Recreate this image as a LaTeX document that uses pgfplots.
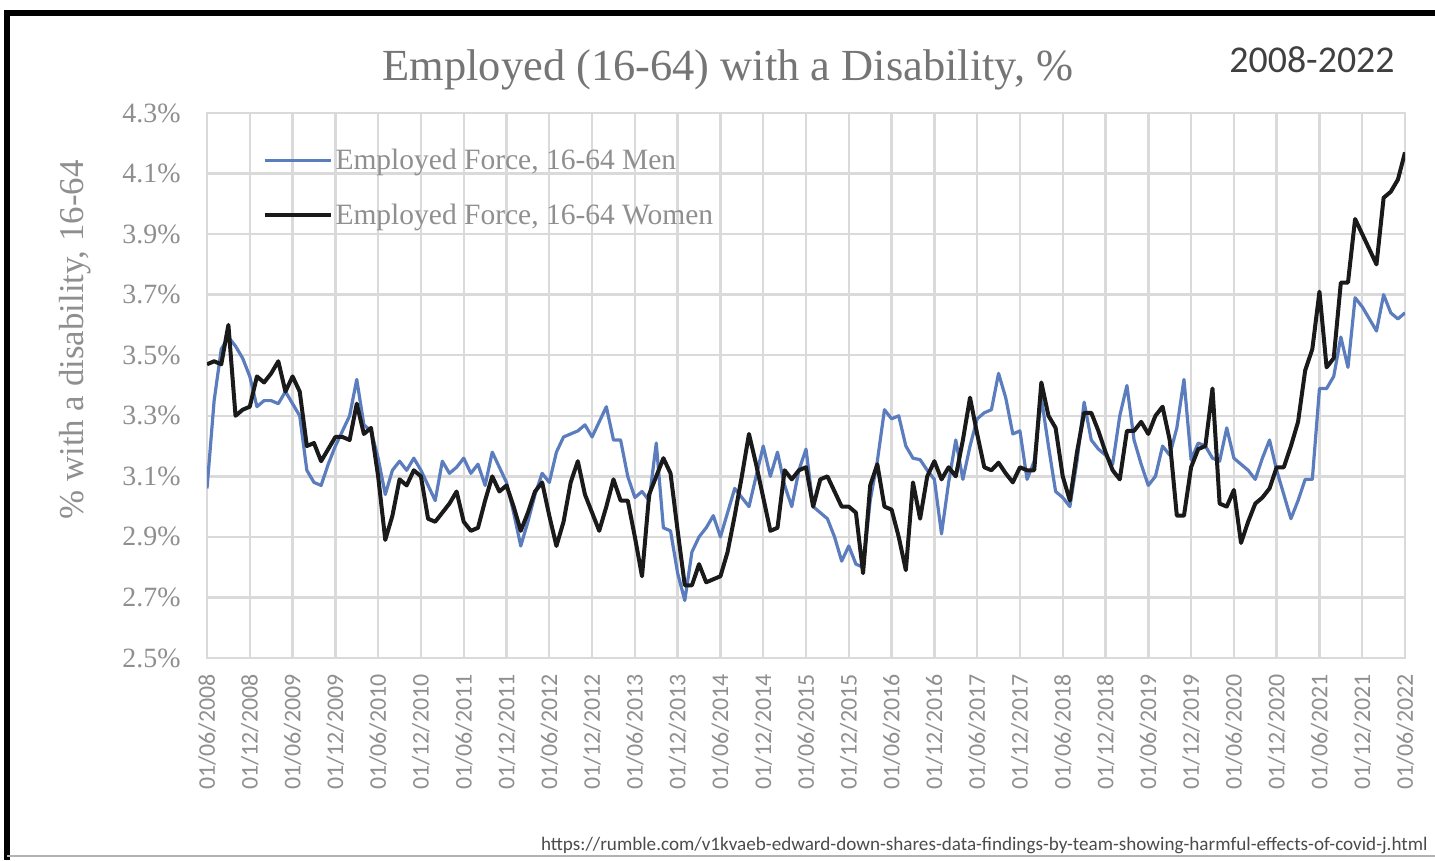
\documentclass[border=0pt]{standalone}
\usepackage{pgfplots}
\pgfplotsset{compat=1.18}
\usepackage{pgfplotstable}
\usepackage{fontspec}
\setmainfont{Liberation Serif}
\newfontfamily\calfont{Carlito}
\definecolor{gridc}{HTML}{DADADA}
\definecolor{tickc}{HTML}{8F8F8F}
\definecolor{titlec}{HTML}{757575}
\definecolor{menc}{HTML}{5B7DBE}
\definecolor{womenc}{HTML}{1A1A1A}

\pgfplotstableread{
m men women
0 3.06 3.47
1 3.35 3.48
2 3.52 3.47
3 3.56 3.60
4 3.53 3.30
5 3.49 3.32
6 3.43 3.33
7 3.33 3.43
8 3.35 3.41
9 3.35 3.44
10 3.34 3.48
11 3.38 3.38
12 3.34 3.43
13 3.30 3.38
14 3.12 3.20
15 3.08 3.21
16 3.07 3.15
17 3.14 3.19
18 3.20 3.23
19 3.25 3.23
20 3.30 3.22
21 3.42 3.34
22 3.27 3.24
23 3.25 3.26
24 3.16 3.10
25 3.04 2.89
26 3.12 2.97
27 3.15 3.09
28 3.12 3.07
29 3.16 3.12
30 3.12 3.10
31 3.07 2.96
32 3.02 2.95
33 3.15 2.98
34 3.11 3.01
35 3.13 3.05
36 3.16 2.95
37 3.11 2.92
38 3.14 2.93
39 3.07 3.02
40 3.18 3.10
41 3.13 3.05
42 3.08 3.07
43 2.98 3.00
44 2.87 2.92
45 2.95 2.98
46 3.04 3.05
47 3.11 3.08
48 3.08 2.97
49 3.18 2.87
50 3.23 2.95
51 3.24 3.08
52 3.25 3.15
53 3.27 3.04
54 3.23 2.98
55 3.28 2.92
56 3.33 3.00
57 3.22 3.09
58 3.22 3.02
59 3.10 3.02
60 3.03 2.90
61 3.05 2.77
62 3.02 3.04
63 3.21 3.10
64 2.93 3.16
65 2.92 3.11
66 2.78 2.92
67 2.69 2.74
68 2.85 2.74
69 2.90 2.81
70 2.93 2.75
71 2.97 2.76
72 2.90 2.77
73 2.98 2.85
74 3.06 2.97
75 3.03 3.10
76 3.00 3.24
77 3.10 3.14
78 3.20 3.03
79 3.10 2.92
80 3.18 2.93
81 3.07 3.12
82 3.00 3.09
83 3.12 3.12
84 3.19 3.13
85 3.00 3.00
86 2.98 3.09
87 2.96 3.10
88 2.90 3.05
89 2.82 3.00
90 2.87 3.00
91 2.81 2.98
92 2.80 2.78
93 3.02 3.07
94 3.15 3.14
95 3.32 3.00
96 3.29 2.99
97 3.30 2.90
98 3.20 2.79
99 3.16 3.08
100 3.155 2.96
101 3.12 3.10
102 3.09 3.15
103 2.91 3.09
104 3.08 3.13
105 3.22 3.10
106 3.09 3.22
107 3.20 3.36
108 3.29 3.24
109 3.31 3.13
110 3.32 3.12
111 3.44 3.145
112 3.36 3.11
113 3.24 3.08
114 3.25 3.13
115 3.09 3.12
116 3.15 3.12
117 3.36 3.41
118 3.20 3.30
119 3.05 3.26
120 3.03 3.10
121 3.00 3.02
122 3.15 3.18
123 3.345 3.31
124 3.22 3.31
125 3.19 3.25
126 3.17 3.18
127 3.14 3.12
128 3.30 3.09
129 3.40 3.25
130 3.22 3.25
131 3.14 3.28
132 3.07 3.24
133 3.10 3.30
134 3.20 3.33
135 3.17 3.22
136 3.26 2.97
137 3.42 2.97
138 3.155 3.13
139 3.21 3.19
140 3.20 3.20
141 3.16 3.39
142 3.15 3.01
143 3.26 3.00
144 3.16 3.055
145 3.14 2.88
146 3.12 2.95
147 3.09 3.01
148 3.16 3.03
149 3.22 3.06
150 3.12 3.13
151 3.04 3.13
152 2.96 3.20
153 3.02 3.28
154 3.09 3.45
155 3.09 3.52
156 3.39 3.71
157 3.39 3.46
158 3.43 3.49
159 3.56 3.74
160 3.46 3.74
161 3.69 3.95
162 3.66 3.90
163 3.62 3.85
164 3.58 3.80
165 3.70 4.02
166 3.64 4.04
167 3.62 4.08
168 3.64 4.17
}\datatable

\begin{document}
\begin{tikzpicture}[x=1bp,y=1bp]
\useasboundingbox (0,0) rectangle (717.5,430);
\fill[white] (0,0) rectangle (717.5,430);
% screenshot frame
\draw[black, line width=3bp] (3.5,0) -- (3.5,423.5) -- (717.5,423.5);
\draw[gray!60, line width=1bp] (3.5,2) -- (717.5,2);
\begin{axis}[
  at={(103.5bp,101bp)}, anchor=south west,
  scale only axis, width=599bp, height=272.5bp,
  xmin=0, xmax=168, ymin=2.5, ymax=4.3,
  xtick={0,6,...,168},
  xticklabels={01/06/2008,01/12/2008,01/06/2009,01/12/2009,01/06/2010,01/12/2010,01/06/2011,01/12/2011,01/06/2012,01/12/2012,01/06/2013,01/12/2013,01/06/2014,01/12/2014,01/06/2015,01/12/2015,01/06/2016,01/12/2016,01/06/2017,01/12/2017,01/06/2018,01/12/2018,01/06/2019,01/12/2019,01/06/2020,01/12/2020,01/06/2021,01/12/2021,01/06/2022},
  ytick={2.5,2.7,2.9,3.1,3.3,3.5,3.7,3.9,4.1,4.3},
  yticklabels={2.5\%,2.7\%,2.9\%,3.1\%,3.3\%,3.5\%,3.7\%,3.9\%,4.1\%,4.3\%},
  grid=major,
  major grid style={draw=gridc, line width=1.2bp},
  axis line style={draw=gridc, line width=1.2bp},
  major tick length=0pt,
  xticklabel style={rotate=90, anchor=east, inner sep=0pt, font=\calfont\fontsize{12}{12}\selectfont, text=tickc},
  xticklabel shift=8bp,
  yticklabel style={inner sep=0pt, font=\fontsize{14}{14}\selectfont, text=tickc},
  yticklabel shift=13bp,
  legend style={at={(0.046,0.94)}, anchor=north west, draw=none, fill=none,
    font=\fontsize{14.8}{14.8}\selectfont, text=tickc, row sep=12.5bp,
    inner sep=0pt, nodes={inner sep=1.5bp}},
  legend cell align=left,
  legend image code/.code={\draw[#1] (0bp,0bp) -- (33bp,0bp);},
]
\addplot[menc, line width=1.6bp, line join=round] table[x=m, y=men] {\datatable};
\addlegendentry{Employed Force, 16-64 Men}
\addplot[womenc, line width=2bp, line join=round] table[x=m, y=women] {\datatable};
\addlegendentry{Employed Force, 16-64 Women}
\end{axis}
\node[rotate=90, text=tickc, font=\fontsize{17.5}{17.5}\selectfont] at (37.5,260) {\% with a disability, 16-64};
\node[text=titlec, font=\fontsize{22.3}{22.3}\selectfont] at (364,395) {Employed (16-64) with a Disability, \%};
\node[text=black!75, font=\calfont\fontsize{19}{19}\selectfont] at (656,400) {2008-2022};
\node[anchor=east, text=black!70, font=\calfont\fontsize{9.6}{9.6}\selectfont, inner sep=0pt] at (714,7.5) {https://rumble.com/v1kvaeb-edward-down-shares-data-findings-by-team-showing-harmful-effects-of-covid-j.html};
\end{tikzpicture}
\end{document}
